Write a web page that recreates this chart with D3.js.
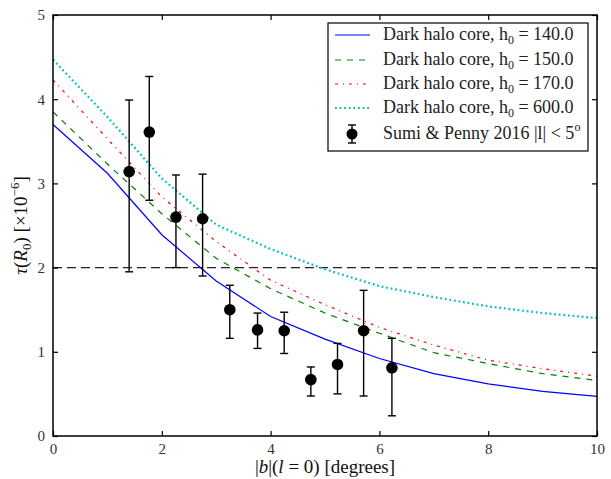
<!DOCTYPE html>
<html>
<head>
<meta charset="utf-8">
<script src="https://cdn.jsdelivr.net/npm/d3@7"></script>
</head>
<body style="margin:0;background:#fff">
<div id="chart"></div>
<script>
// data
var bGrid=[0,1,2,3,4,5,6,7,8,9,10];
var core140=[3.70,3.12,2.39,1.84,1.42,1.15,0.92,0.74,0.62,0.53,0.47];
var core150=[3.85,3.23,2.64,2.11,1.75,1.46,1.22,0.99,0.86,0.74,0.66];
var core170=[4.23,3.53,2.84,2.31,1.85,1.56,1.29,1.08,0.90,0.80,0.71];
var core600=[4.47,3.79,3.06,2.51,2.22,1.98,1.78,1.65,1.54,1.46,1.40];
var sumiB=[1.40,1.77,2.26,2.75,3.25,3.76,4.25,4.74,5.23,5.71,6.23];
var sumiTau=[3.14,3.61,2.60,2.58,1.50,1.26,1.25,0.67,0.85,1.25,0.81];
var sumiLo=[1.95,2.80,2.00,1.90,1.16,1.04,0.98,0.475,0.50,0.475,0.24];
var sumiHi=[3.99,4.27,3.10,3.11,1.79,1.46,1.47,0.82,1.10,1.73,1.16];
var refLine=2;
var xTicks=[0,2,4,6,8,10];
var yTicks=[0,1,2,3,4,5];
var seriesNames=["140.0","150.0","170.0","600.0"];

width=611;height=479;
margin={left:53,right:14,top:15,bottom:43};
serifFont="Liberation Serif";

var svg=d3.select("#chart").append("svg").attr("width",width).attr("height",height);
var x=d3.scaleLinear().domain([0,10]).range([margin.left,width-margin.right]);
var y=d3.scaleLinear().domain([0,5]).range([height-margin.bottom,margin.top]);

var series=[
	{vals:core140,color:"#0000ff",dash:null,w:1.2},
	{vals:core150,color:"#008000",dash:"6,6",w:1.2},
	{vals:core170,color:"#ff0000",dash:"3,5,1,5",w:1.2},
	{vals:core600,color:"#00bfbf",dash:"1.8,2.8",w:2.2}
];

var line=d3.line().x(function(d){return x(d[0])}).y(function(d){return y(d[1])});

var plot=svg.append("g");
// dashed reference line
plot.append("line")
	.attr("x1",x(0)).attr("x2",x(10))
	.attr("y1",y(refLine)).attr("y2",y(refLine))
	.attr("stroke","#222").attr("stroke-width",1.3).attr("stroke-dasharray","9,5");

series.forEach(function(s){
	plot.append("path")
		.datum(bGrid.map(function(b,i){return [b,s.vals[i]]}))
		.attr("d",line).attr("fill","none")
		.attr("stroke",s.color).attr("stroke-width",s.w)
		.attr("stroke-dasharray",s.dash);
});

// error bars + points
var pts=plot.selectAll(".pt").data(sumiB).enter().append("g");
pts.append("line")
	.attr("x1",function(d){return x(d)}).attr("x2",function(d){return x(d)})
	.attr("y1",function(d,i){return y(sumiLo[i])}).attr("y2",function(d,i){return y(sumiHi[i])})
	.attr("stroke","#000").attr("stroke-width",1.4);
[sumiLo,sumiHi].forEach(function(arr){
	pts.append("line")
		.attr("x1",function(d){return x(d)-4}).attr("x2",function(d){return x(d)+4})
		.attr("y1",function(d,i){return y(arr[i])}).attr("y2",function(d,i){return y(arr[i])})
		.attr("stroke","#000").attr("stroke-width",1.4);
});
pts.append("circle")
	.attr("cx",function(d){return x(d)}).attr("cy",function(d,i){return y(sumiTau[i])})
	.attr("r",5.8).attr("fill","#000");

// axes with inward ticks on all sides
function styleAxis(g){
	g.select(".domain").remove();
	g.selectAll(".tick line").attr("stroke","#000").attr("stroke-width",1.2);
	g.selectAll(".tick text").attr("font-size","15px").attr("fill","#333")
		.attr("font-family",serifFont);
}
svg.append("g").attr("transform","translate(0,"+y(0)+")")
	.call(d3.axisBottom(x).tickValues(xTicks).tickSize(-5).tickPadding(7).tickFormat(d3.format("d")))
	.call(styleAxis);
svg.append("g").attr("transform","translate(0,"+y(5)+")")
	.call(d3.axisTop(x).tickValues(xTicks).tickSize(-5).tickFormat(""))
	.call(styleAxis);
svg.append("g").attr("transform","translate("+x(0)+",0)")
	.call(d3.axisLeft(y).tickValues(yTicks).tickSize(-5).tickPadding(8).tickFormat(d3.format("d")))
	.call(styleAxis);
svg.append("g").attr("transform","translate("+x(10)+",0)")
	.call(d3.axisRight(y).tickValues(yTicks).tickSize(-5).tickFormat(""))
	.call(styleAxis);

svg.append("rect")
	.attr("x",x(0)).attr("y",y(5)).attr("width",x(10)-x(0)).attr("height",y(0)-y(5))
	.attr("fill","none").attr("stroke","#000").attr("stroke-width",1.5);

// axis labels
var xl=svg.append("text").attr("x",(x(0)+x(10))/2).attr("y",473)
	.attr("font-family",serifFont)
	.attr("text-anchor","middle").attr("font-size","19px").attr("fill","#111");
xl.append("tspan").text("|");
xl.append("tspan").attr("font-style","italic").text("b");
xl.append("tspan").text("|(");
xl.append("tspan").attr("font-style","italic").text("l");
xl.append("tspan").text(" = 0) [degrees]");

var yl=svg.append("text").attr("transform","translate(27,"+((y(0)+y(5))/2)+") rotate(-90)")
	.attr("font-family",serifFont)
	.attr("text-anchor","middle").attr("font-size","19px").attr("fill","#111");
yl.append("tspan").attr("font-style","italic").text("τ");
yl.append("tspan").text("(");
yl.append("tspan").attr("font-style","italic").text("R");
yl.append("tspan").attr("font-size","13px").attr("dy",4).text("0");
yl.append("tspan").attr("dy",-4).text(") [×10");
yl.append("tspan").attr("font-size","13px").attr("dy",-8).text("−6");
yl.append("tspan").attr("dy",8).text("]");

// legend
var lg=svg.append("g").attr("transform","translate(328,23)");
lg.append("rect").attr("width",260).attr("height",128)
	.attr("fill","#fff").attr("stroke","#000").attr("stroke-width",1.2);
var rowY=[12,37,61,85,111];
series.forEach(function(s,i){
	lg.append("line").attr("x1",7).attr("x2",42).attr("y1",rowY[i]).attr("y2",rowY[i])
		.attr("stroke",s.color).attr("stroke-width",s.w).attr("stroke-dasharray",s.dash);
	var t=lg.append("text").attr("x",55).attr("y",rowY[i]+5).attr("font-size","18px")
		.attr("font-family",serifFont).attr("fill","#222");
	t.append("tspan").text("Dark halo core,  h");
	t.append("tspan").attr("font-size","12px").attr("dy",4).text("0");
	t.append("tspan").attr("dy",-4).text(" = "+seriesNames[i]);
});
var ly=rowY[4];
lg.append("line").attr("x1",24).attr("x2",24).attr("y1",ly-9).attr("y2",ly+9).attr("stroke","#000").attr("stroke-width",1.4);
lg.append("line").attr("x1",20).attr("x2",28).attr("y1",ly-9).attr("y2",ly-9).attr("stroke","#000").attr("stroke-width",1.4);
lg.append("line").attr("x1",20).attr("x2",28).attr("y1",ly+9).attr("y2",ly+9).attr("stroke","#000").attr("stroke-width",1.4);
lg.append("circle").attr("cx",24).attr("cy",ly).attr("r",5.5).attr("fill","#000");
var t5=lg.append("text").attr("x",55).attr("y",ly+5).attr("font-size","18px")
	.attr("font-family",serifFont).attr("fill","#222");
t5.append("tspan").text("Sumi & Penny 2016 |l| < 5");
t5.append("tspan").attr("font-size","12px").attr("dy",-8).text("o");
</script>
</body>
</html>
